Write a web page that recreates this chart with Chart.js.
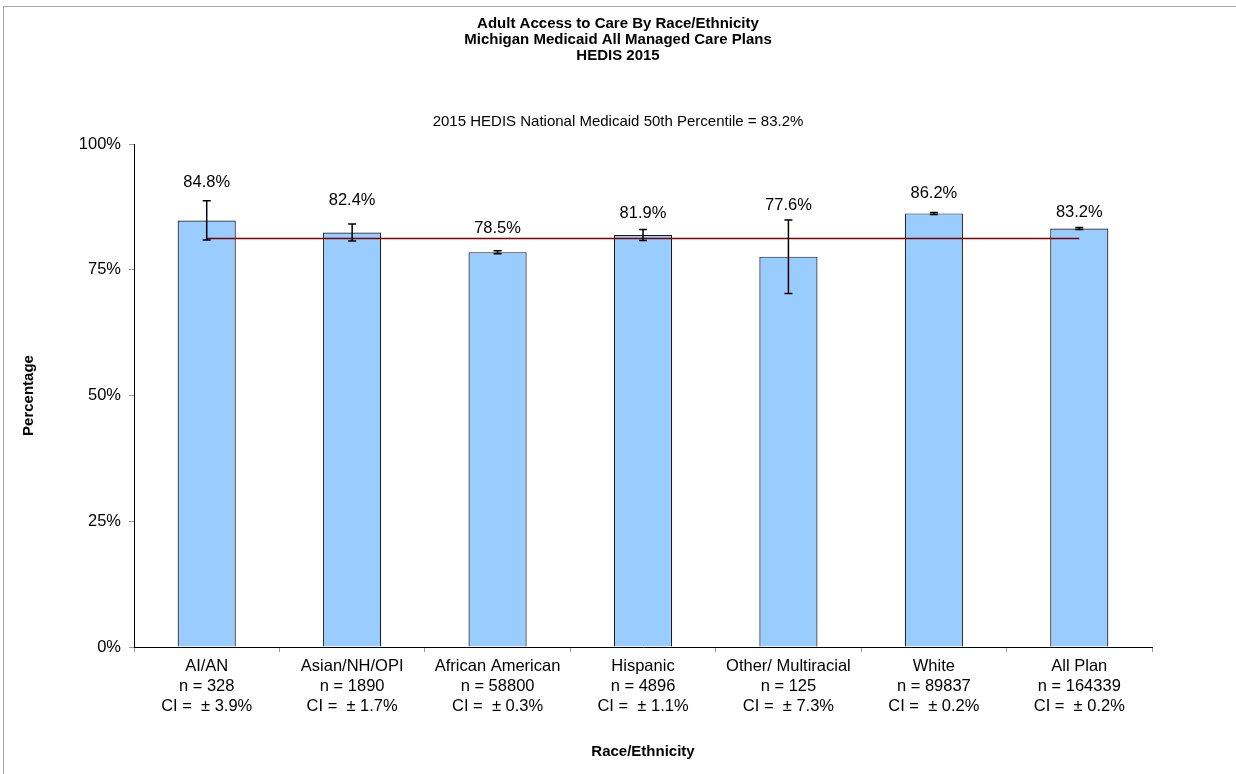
<!DOCTYPE html>
<html>
<head>
<meta charset="utf-8">
<title>Adult Access to Care By Race/Ethnicity</title>
<script src="https://cdn.jsdelivr.net/npm/chart.js@4"></script>
<style>
  html, body { margin: 0; padding: 0; background: #fff; }
  #wrap { position: relative; width: 1236px; height: 774px; }
  #frame { position: absolute; left: 3px; top: 6px; right: 0; bottom: 0;
           border-top: 1px solid #a8a8a8; border-left: 1px solid #a8a8a8; pointer-events: none; }
</style>
</head>
<body>
<div id="wrap">
  <canvas id="chart" width="1236" height="774"></canvas>
  <div id="frame"></div>
</div>
<script>
  // data
  const groups = ["AI/AN", "Asian/NH/OPI", "African American", "Hispanic", "Other/ Multiracial", "White", "All Plan"];
  const counts = [328, 1890, 58800, 4896, 125, 89837, 164339];
  const ciHalf = [3.9, 1.7, 0.3, 1.1, 7.3, 0.2, 0.2];
  const rates = [84.8, 82.4, 78.5, 81.9, 77.6, 86.2, 83.2];
  const benchmark = [81.2, 81.2, 81.2, 81.2, 81.2, 81.2, 81.2];
  const yTicks = [0, 25, 50, 75, 100];

  // how far (px) each value label sits above its error bar
  const labelLift = [18, 24, 22, 16, 14, 19, 15];

  const FONT = "Arial, 'Liberation Sans', sans-serif";

  const xLabels = groups.map((g, i) => [g, "n = " + counts[i], "CI =  \u00b1 " + ciHalf[i].toFixed(1) + "%"]);

  // error bars + value labels drawn on top of the bars
  const errorBars = {
    id: "errorBars",
    afterDatasetsDraw(chart) {
      const { ctx } = chart;
      const y = chart.scales.y;
      const meta = chart.getDatasetMeta(1);
      ctx.save();
      ctx.strokeStyle = "#000";
      ctx.lineWidth = 1.5;
      ctx.fillStyle = "#000";
      ctx.font = "16.5px " + FONT;
      ctx.textAlign = "center";
      ctx.textBaseline = "middle";
      meta.data.forEach((bar, i) => {
        const top = y.getPixelForValue(rates[i] + ciHalf[i]);
        const bottom = y.getPixelForValue(rates[i] - ciHalf[i]);
        ctx.beginPath();
        ctx.moveTo(bar.x, top);
        ctx.lineTo(bar.x, bottom);
        ctx.moveTo(bar.x - 4, top);
        ctx.lineTo(bar.x + 4, top);
        ctx.moveTo(bar.x - 4, bottom);
        ctx.lineTo(bar.x + 4, bottom);
        ctx.stroke();
        ctx.fillText(rates[i].toFixed(1) + "%", bar.x, top - labelLift[i]);
      });
      ctx.restore();
    }
  };

  const ctx = document.getElementById("chart").getContext("2d");
  const chart = new Chart(ctx, {
    type: "bar",
    data: {
      labels: xLabels,
      datasets: [
        {
          type: "line",
          label: "2015 HEDIS National Medicaid 50th Percentile",
          data: benchmark,
          borderColor: "#800000",
          borderWidth: 1.5,
          pointRadius: 0,
          fill: false,
          order: 0
        },
        {
          type: "bar",
          label: "Rate",
          data: rates,
          backgroundColor: "#99CCFF",
          borderColor: "#1a1a1a",
          borderWidth: 1.2,
          categoryPercentage: 1,
          barPercentage: 0.4,
          order: 1
        }
      ]
    },
    options: {
      responsive: false,
      animation: false,
      devicePixelRatio: 1,
      layout: { padding: 0 },
      plugins: {
        legend: { display: false },
        tooltip: { enabled: false },
        title: {
          display: true,
          text: ["Adult Access to Care By Race/Ethnicity", "Michigan Medicaid All Managed Care Plans", "HEDIS 2015"],
          color: "#000",
          font: { family: FONT, size: 15, weight: "bold", lineHeight: "16px" },
          padding: { top: 16, bottom: 0 }
        },
        subtitle: {
          display: true,
          text: "2015 HEDIS National Medicaid 50th Percentile = 83.2%",
          color: "#000",
          font: { family: FONT, size: 15, lineHeight: 1.2 },
          padding: { top: 49, bottom: 13 }
        }
      },
      scales: {
        x: {
          afterFit: (scale) => { scale.height = 127; },
          grid: { offset: true, drawOnChartArea: false, color: "#999", tickLength: 5 },
          border: { color: "#000", width: 1 },
          ticks: { color: "#000", font: { family: FONT, size: 16.5, lineHeight: 1.2 }, padding: 4.5, maxRotation: 0, autoSkip: false },
          title: {
            display: true,
            text: "Race/Ethnicity",
            color: "#000",
            font: { family: FONT, size: 15, weight: "bold", lineHeight: 1.15 },
            padding: { top: 0, bottom: 13.5 }
          }
        },
        y: {
          min: 0,
          max: 100,
          afterFit: (scale) => { scale.width = 134; },
          afterBuildTicks: (scale) => { scale.ticks = yTicks.map((v) => ({ value: v })); },
          grid: { drawOnChartArea: false, color: "#999", tickLength: 5 },
          border: { color: "#000", width: 1 },
          ticks: { color: "#000", font: { family: FONT, size: 16.5 }, padding: 8, callback: (v) => v + "%" },
          title: {
            display: true,
            text: "Percentage",
            color: "#000",
            font: { family: FONT, size: 15, weight: "bold", lineHeight: 1.15 },
            padding: { top: 20.5, bottom: 0 }
          }
        },
        // empty right-hand axis that only reserves the blank margin on the right
        yRight: {
          position: "right",
          min: 0,
          max: 100,
          afterFit: (scale) => { scale.width = 84; },
          grid: { display: false },
          border: { display: false },
          ticks: { display: false }
        }
      }
    },
    plugins: [errorBars]
  });
</script>
</body>
</html>
